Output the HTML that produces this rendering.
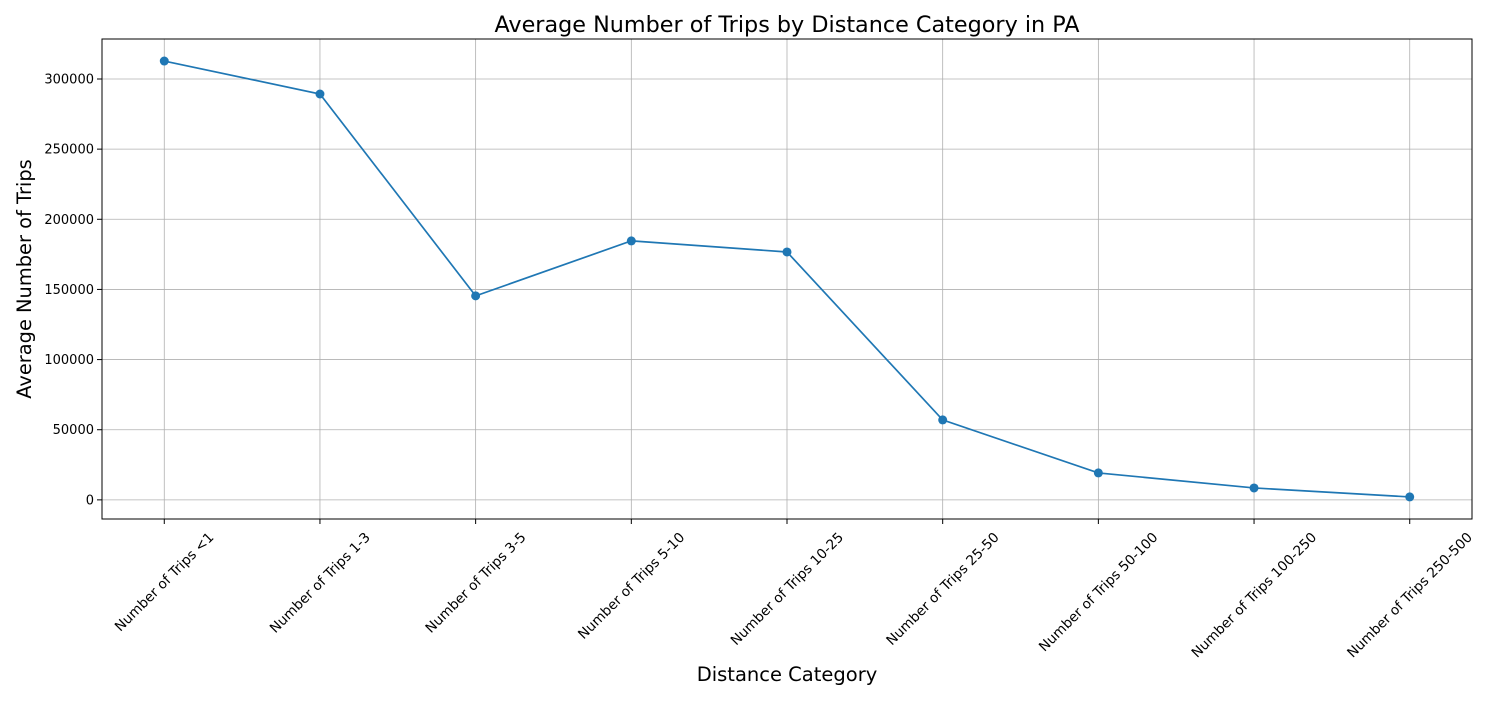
<!DOCTYPE html>
<html><head><meta charset="utf-8"><style>
body{margin:0;background:#fff;font-family:"Liberation Sans","DejaVu Sans",sans-serif;}
</style></head><body>
<svg id="chart" width="1500" height="700" xmlns="http://www.w3.org/2000/svg">
<rect width="1500" height="700" fill="#fff"/>
<text x="787" y="32" text-anchor="middle" font-size="22.3" font-family="DejaVu Sans, sans-serif">Average Number of Trips by Distance Category in PA</text>
<text x="787" y="681" text-anchor="middle" font-size="19.5" font-family="DejaVu Sans, sans-serif">Distance Category</text>
<text transform="translate(31,279) rotate(-90)" text-anchor="middle" font-size="19.4" font-family="DejaVu Sans, sans-serif">Average Number of Trips</text>
<g id="grid"></g><g id="ticks"></g><g id="series"></g>
<rect x="102" y="39" width="1370" height="480" fill="none" stroke="#000" stroke-width="1"/>
</svg>
<script>
const categories = ["Number of Trips <1","Number of Trips 1-3","Number of Trips 3-5","Number of Trips 5-10","Number of Trips 10-25","Number of Trips 25-50","Number of Trips 50-100","Number of Trips 100-250","Number of Trips 250-500"];
const values = [312800,289300,145400,184600,176700,57000,19200,8500,2100];
const yTicks = [0,50000,100000,150000,200000,250000,300000];

const NS="http://www.w3.org/2000/svg";
const L=102,R=1472,T=39,B=519;
const n=categories.length;
const xMin=-0.4, xMax=n-1+0.4;
const vmin=Math.min(0,...values), vmax=Math.max(...values);
const yMin=vmin-(vmax-vmin)*0.0436, yMax=vmax+(vmax-vmin)*0.0502;
const xs=i=>L+(i-xMin)/(xMax-xMin)*(R-L);
const ys=v=>B-(v-yMin)/(yMax-yMin)*(B-T);
function mk(tag,attrs,parent){const e=document.createElementNS(NS,tag);for(const k in attrs)e.setAttribute(k,attrs[k]);parent.appendChild(e);return e;}
const grid=document.getElementById('grid'),ticks=document.getElementById('ticks'),series=document.getElementById('series');
yTicks.forEach(v=>{
  const y=ys(v);
  const g=mk('line',{x1:L,x2:R,y1:y,y2:y,stroke:'#b0b0b0','stroke-width':0.8},grid);
  
  
  mk('line',{x1:L-5,x2:L,y1:y,y2:y,stroke:'#000'},ticks);
  const t=mk('text',{x:L-8,y:y+4.5,'text-anchor':'end','font-size':13,'font-family':'DejaVu Sans, sans-serif'},ticks);
  t.textContent=v;
  
  
});
categories.forEach((c,i)=>{
  const x=xs(i);
  const g=mk('line',{x1:x,x2:x,y1:T,y2:B,stroke:'#b0b0b0','stroke-width':0.8},grid);
  
  
  mk('line',{x1:x,x2:x,y1:B,y2:B+5,stroke:'#000'},ticks);
  const t=mk('text',{x:0,y:4.5,'text-anchor':'middle','font-size':13.7,'font-family':'DejaVu Sans, sans-serif'},ticks);
  t.textContent=c;
  
  
  const w=t.getComputedTextLength();
  const cy=B+11+(w+14)*0.7071/2;
  t.setAttribute('transform',`translate(${x},${cy}) rotate(-45)`);
});
const pts=values.map((v,i)=>xs(i)+','+ys(v)).join(' ');
const line=mk('polyline',{points:pts,fill:'none',stroke:'#1f77b4','stroke-width':1.7},series);


values.forEach((v,i)=>{
  const c=mk('circle',{cx:xs(i),cy:ys(v),r:4.5,fill:'#1f77b4'},series);
  
  
});
</script>
</body></html>
